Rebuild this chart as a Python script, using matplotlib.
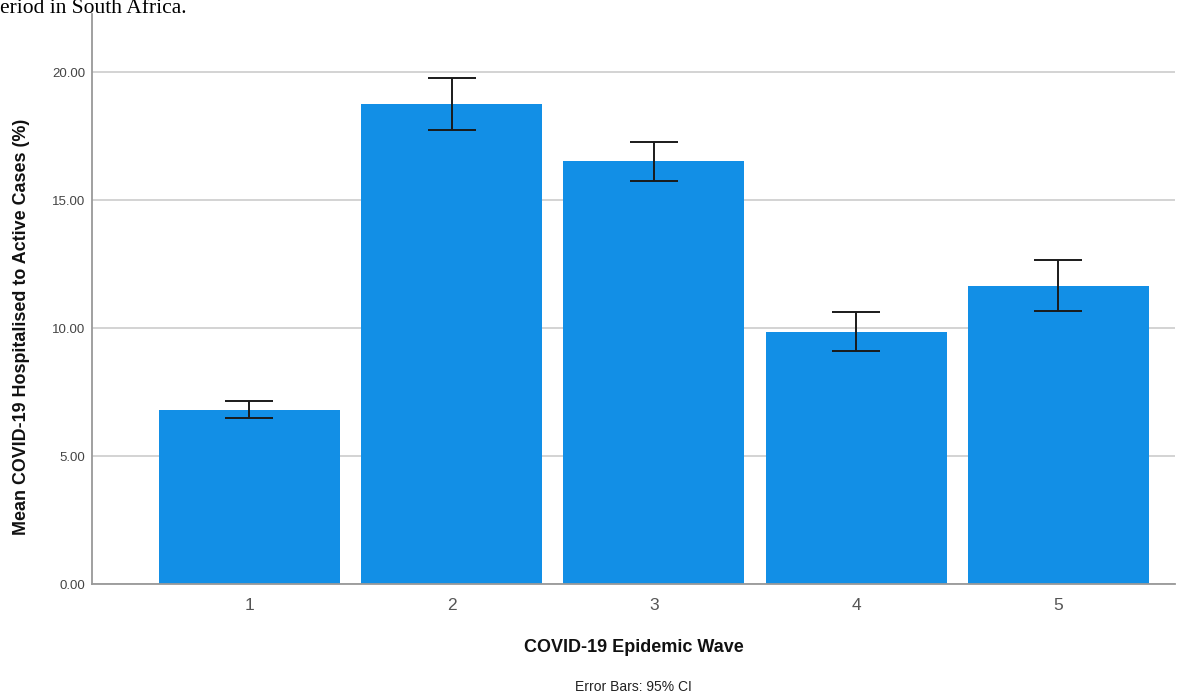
import matplotlib
matplotlib.use("Agg")
import matplotlib.pyplot as plt
import numpy as np

waves = ["1", "2", "3", "4", "5"]
means = [6.80, 18.75, 16.52, 9.84, 11.64]
ci_low = [6.48, 17.73, 15.74, 9.10, 10.66]
ci_high = [7.15, 19.77, 17.27, 10.63, 12.66]
y_ticks = [0, 5, 10, 15, 20]

plt.rcParams["font.family"] = ["Liberation Sans", "DejaVu Sans"]

fig = plt.figure(figsize=(12.03, 6.95), dpi=100)
ax = fig.add_axes([0.0765, 0.1597, 0.9002, 0.8203])

x = np.arange(1, len(waves) + 1)
m = np.array(means)
yerr = [m - np.array(ci_low), np.array(ci_high) - m]
ax.bar(x, m, width=0.895, color="#128fe6", zorder=2)
ax.errorbar(x, m, yerr=yerr, fmt="none", ecolor="#1a1a1a", elinewidth=1.4,
            capsize=17.6, capthick=1.4, zorder=3)

ax.set_xlim(0.222, 5.576)
ax.set_ylim(0, 22.27)
ax.set_xticks(x)
ax.set_xticklabels(waves, fontsize=12.5, color="#555555")
ax.set_yticks(y_ticks)
ax.set_yticklabels([f"{v:.2f}" for v in y_ticks], fontsize=9.5, color="#444444")
ax.tick_params(axis="x", length=0, pad=10)
ax.tick_params(axis="y", length=0, pad=5)
ax.grid(axis="y", color="#d0d0d0", linewidth=1.3, zorder=0)
for s in ["top", "right"]:
    ax.spines[s].set_visible(False)
for s in ["left", "bottom"]:
    ax.spines[s].set_color("#999999")
    ax.spines[s].set_linewidth(1.3)

ax.set_xlabel("COVID-19 Epidemic Wave", fontsize=13, fontweight="bold",
              color="#111111", labelpad=19)
ax.set_ylabel("Mean COVID-19 Hospitalised to Active Cases (%)", fontsize=12.9,
              fontweight="bold", color="#111111")
ax.yaxis.set_label_coords(-0.057, 0.451)

fig.text(0.5 * (0.0765 + 0.9767), 1 - 687 / 695, "Error Bars: 95% CI",
         fontsize=10, color="#222222", ha="center", va="center")
fig.text(0.0, 1 - 13 / 695, "eriod in South Africa.", fontsize=15.5,
         family=["Liberation Serif", "DejaVu Serif"], ha="left", va="baseline")

fig.savefig("out.png", dpi=100)
